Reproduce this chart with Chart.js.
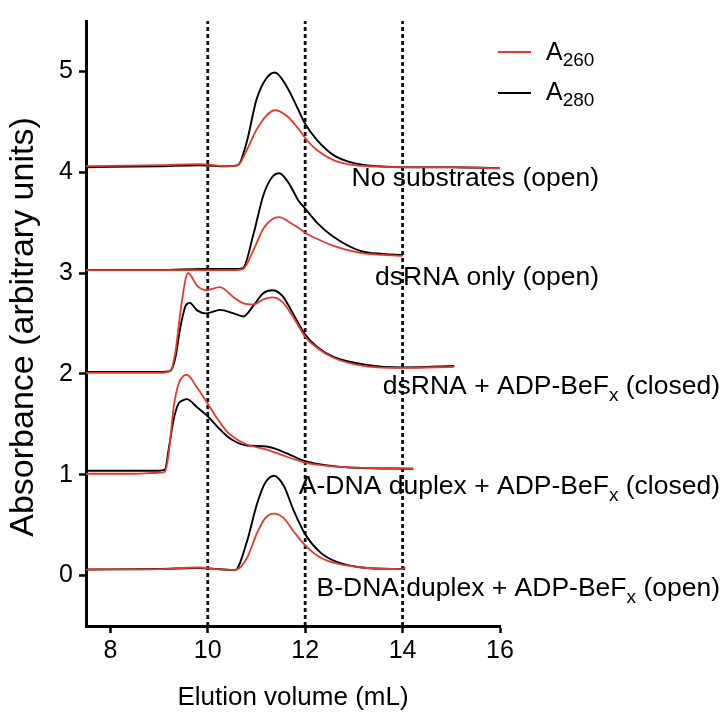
<!DOCTYPE html>
<html>
<head>
<meta charset="utf-8">
<script src="https://cdn.jsdelivr.net/npm/chart.js@4.4.0/dist/chart.umd.min.js"></script>
<style>
  html, body { margin: 0; padding: 0; background: #fff; }
</style>
</head>
<body>
<canvas id="chart" width="722" height="713"></canvas>
<script>
const noSubVol  = [7.5, 9.0, 9.8, 10.4, 10.62, 10.8, 11.0, 11.2, 11.38, 11.62, 11.83, 12.0, 12.24, 12.58, 13.0, 13.5, 14.0, 15.0, 16.0];
const noSubA280 = [4.05, 4.06, 4.07, 4.06, 4.07, 4.30, 4.72, 4.93, 4.99, 4.85, 4.65, 4.48, 4.32, 4.17, 4.09, 4.06, 4.05, 4.05, 4.04];
const noSubA260 = [4.06, 4.07, 4.08, 4.06, 4.07, 4.22, 4.42, 4.56, 4.615, 4.56, 4.45, 4.34, 4.22, 4.12, 4.07, 4.055, 4.05, 4.05, 4.04];

const rnaVol  = [7.5, 9.0, 9.9, 10.5, 10.72, 10.94, 11.14, 11.32, 11.47, 11.69, 11.86, 12.0, 12.24, 12.58, 13.13, 13.6, 14.0];
const rnaA280 = [3.03, 3.03, 3.04, 3.04, 3.05, 3.39, 3.77, 3.95, 3.99, 3.87, 3.72, 3.64, 3.50, 3.36, 3.22, 3.19, 3.18];
const rnaA260 = [3.03, 3.03, 3.03, 3.03, 3.04, 3.23, 3.44, 3.535, 3.555, 3.50, 3.45, 3.40, 3.34, 3.27, 3.20, 3.18, 3.17];

const rnaBefVol  = [7.5, 8.5, 9.0, 9.23, 9.33, 9.44, 9.54, 9.59, 9.63, 9.78, 9.97, 10.25, 10.53, 10.73, 10.94, 11.14, 11.32, 11.52, 11.76, 12.0, 12.24, 12.58, 13.26, 14.0, 15.06];
const rnaBefA280 = [2.02, 2.02, 2.02, 2.03, 2.15, 2.47, 2.67, 2.70, 2.705, 2.63, 2.60, 2.635, 2.60, 2.57, 2.68, 2.80, 2.83, 2.78, 2.59, 2.39, 2.27, 2.17, 2.09, 2.065, 2.08];
const rnaBefA260 = [2.01, 2.01, 2.01, 2.03, 2.20, 2.62, 2.93, 3.00, 2.99, 2.875, 2.83, 2.86, 2.76, 2.70, 2.69, 2.74, 2.76, 2.72, 2.56, 2.37, 2.26, 2.16, 2.075, 2.06, 2.07];

const adnaVol  = [7.5, 8.5, 9.0, 9.12, 9.2, 9.3, 9.4, 9.5, 9.57, 9.78, 10.0, 10.19, 10.39, 10.6, 10.8, 11.21, 11.56, 12.0, 12.51, 13.0, 14.22];
const adnaA280 = [1.04, 1.04, 1.04, 1.05, 1.26, 1.55, 1.705, 1.74, 1.75, 1.67, 1.58, 1.48, 1.385, 1.32, 1.29, 1.28, 1.225, 1.135, 1.09, 1.07, 1.06];
const adnaA260 = [1.01, 1.01, 1.02, 1.03, 1.22, 1.67, 1.90, 1.98, 1.99, 1.865, 1.705, 1.56, 1.43, 1.35, 1.30, 1.25, 1.19, 1.12, 1.085, 1.07, 1.06];

const bdnaVol  = [7.5, 9.0, 9.8, 10.2, 10.56, 10.8, 11.01, 11.18, 11.36, 11.56, 11.76, 12.0, 12.31, 12.65, 13.27, 14.0, 14.05];
const bdnaA280 = [0.06, 0.065, 0.075, 0.065, 0.055, 0.33, 0.71, 0.92, 0.99, 0.89, 0.65, 0.41, 0.23, 0.135, 0.075, 0.065, 0.065];
const bdnaA260 = [0.06, 0.065, 0.08, 0.065, 0.055, 0.17, 0.42, 0.57, 0.615, 0.57, 0.44, 0.30, 0.18, 0.12, 0.075, 0.065, 0.085];

const volumeTicks = [8, 10, 12, 14, 16];
const absTicks = [0, 1, 2, 3, 4, 5];
const markerVolumes = [10, 12, 14];
const X_MIN = 7.5, X_MAX = 16, Y_MIN = -0.5, Y_MAX = 5.5;

const RED = '#e3392f';
const BLACK = '#000000';
const FONT = '"Liberation Sans", Arial, Helvetica, sans-serif';

const traces = [
    [noSubVol, noSubA260, noSubA280],
    [rnaVol, rnaA260, rnaA280],
    [rnaBefVol, rnaBefA260, rnaBefA280],
    [adnaVol, adnaA260, adnaA280],
    [bdnaVol, bdnaA260, bdnaA280]
];

const toPoints = (xs, ys) => xs.map((x, i) => ({ x: x, y: ys[i] }));

const datasets = [];
traces.forEach(([vol, a260, a280]) => {
    datasets.push({
        label: 'A260', data: toPoints(vol, a260), borderColor: RED,
        borderWidth: 1.8, pointRadius: 0, cubicInterpolationMode: 'monotone', fill: false
    });
    datasets.push({
        label: 'A280', data: toPoints(vol, a280), borderColor: BLACK,
        borderWidth: 1.9, pointRadius: 0, cubicInterpolationMode: 'monotone', fill: false
    });
});
markerVolumes.forEach(v => {
    datasets.push({
        label: 'marker', data: [{ x: v, y: Y_MIN }, { x: v, y: Y_MAX }],
        borderColor: '#111', borderWidth: 2.8, borderDash: [4, 3],
        pointRadius: 0, fill: false
    });
});

// curve labels: parts are [text, isSubscript]
const curveLabels = [
    { parts: [['No substrates (open)', false]], right: 599, base: 186 },
    { parts: [['dsRNA only (open)', false]], right: 599, base: 285 },
    { parts: [['dsRNA + ADP-BeF', false], ['x', true], [' (closed)', false]], right: 720, base: 394 },
    { parts: [['A-DNA duplex + ADP-BeF', false], ['x', true], [' (closed)', false]], right: 720, base: 494 },
    { parts: [['B-DNA duplex + ADP-BeF', false], ['x', true], [' (open)', false]], right: 720, base: 596 }
];

function drawRich(ctx, parts, x, base, size, subSize, subDrop, alignRight) {
    const widths = parts.map(([t, sub]) => {
        ctx.font = (sub ? subSize : size) + 'px ' + FONT;
        return ctx.measureText(t).width;
    });
    const total = widths.reduce((a, b) => a + b, 0);
    let cx = alignRight ? x - total : x;
    parts.forEach(([t, sub], i) => {
        ctx.font = (sub ? subSize : size) + 'px ' + FONT;
        ctx.fillText(t, cx, sub ? base + subDrop : base);
        cx += widths[i];
    });
}

const annotations = {
    id: 'annotations',
    beforeDatasetsDraw(chart) {
        const ctx = chart.ctx;
        ctx.save();
        ctx.fillStyle = '#000';
        ctx.textAlign = 'left';
        ctx.textBaseline = 'alphabetic';
        curveLabels.forEach(l => drawRich(ctx, l.parts, l.right, l.base, 26.5, 19, 7, true));

        // legend
        const items = [[RED, '260', 52, 60], [BLACK, '280', 93, 100]];
        items.forEach(([col, sub, ly, base]) => {
            ctx.strokeStyle = col;
            ctx.lineWidth = 1.8;
            ctx.beginPath();
            ctx.moveTo(498, ly);
            ctx.lineTo(531, ly);
            ctx.stroke();
            drawRich(ctx, [['A', false], [sub, true]], 546, base, 25, 19, 6, false);
        });

        // y axis title
        ctx.translate(24, 327);
        ctx.rotate(-Math.PI / 2);
        ctx.textAlign = 'center';
        ctx.textBaseline = 'middle';
        ctx.font = '34px ' + FONT;
        ctx.fillText('Absorbance (arbitrary units)', 0, 0);
        ctx.restore();
    }
};

const gridOpts = {
    drawOnChartArea: false, drawTicks: true, tickLength: 7,
    tickWidth: 2.5, tickColor: '#000'
};

new Chart(document.getElementById('chart'), {
    type: 'line',
    data: { datasets: datasets },
    plugins: [annotations],
    options: {
        responsive: false,
        animation: false,
        devicePixelRatio: 1,
        layout: { padding: { top: 2, right: 222, left: 0, bottom: 0 } },
        plugins: { legend: { display: false }, tooltip: { enabled: false } },
        scales: {
            x: {
                type: 'linear', min: X_MIN, max: X_MAX,
                afterBuildTicks: s => { s.ticks = volumeTicks.map(v => ({ value: v })); },
                afterFit: s => { s.height = 87; },
                grid: gridOpts,
                border: { display: true, width: 3, color: '#000' },
                ticks: {
                    font: { size: 25, family: FONT }, color: '#000', padding: 3,
                    maxRotation: 0, autoSkip: false
                },
                title: {
                    display: true, text: 'Elution volume (mL)', color: '#000',
                    font: { size: 26, family: FONT, lineHeight: 1 },
                    padding: { top: 0, bottom: 2 }
                }
            },
            y: {
                type: 'linear', min: Y_MIN, max: Y_MAX,
                afterBuildTicks: s => { s.ticks = absTicks.map(v => ({ value: v })); },
                afterFit: s => { s.width = 86; },
                grid: gridOpts,
                border: { display: true, width: 3, color: '#000' },
                ticks: { font: { size: 25, family: FONT }, color: '#000', padding: 6 }
            }
        }
    }
});
</script>
</body>
</html>
